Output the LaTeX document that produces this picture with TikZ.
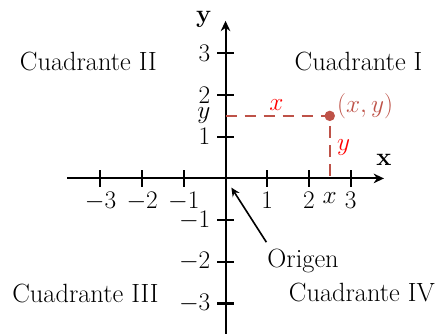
\documentclass[tikz,border=0pt]{standalone}
\usepackage{amsmath}
\usetikzlibrary{arrows.meta}
\definecolor{ptbrown}{RGB}{190,82,72}
\begin{document}
\begin{tikzpicture}[x=1cm,y=1cm,font=\fontsize{18}{22}\selectfont,line width=1.4pt,
  axis/.style={-{Stealth[length=7pt,width=6.5pt,inset=2.2pt]}},
  tick/.style={line width=1.4pt},
  guide/.style={ptbrown,line width=1.4pt,dash pattern=on 8pt off 5pt},
  quad/.style={anchor=base,inner sep=0pt},
  redlab/.style={red,inner sep=0pt}]
\useasboundingbox (-5.41,-3.73) rectangle (5.12,4.28);
\coordinate (O) at (0,0);
\coordinate (xl) at (-3.8,0);
\coordinate (xr) at (3.8,0);
\coordinate (yb) at (0,-3.9);
\coordinate (yt) at (0,3.78);
\draw[axis] (xl) -- (xr);
\draw[axis] (yb) -- (yt);
\foreach \i/\n in {-3/a,-2/b,-1/c,1/d,2/e,3/f}{
  \draw[tick] (\i,-0.2) -- (\i,0.2);
  \node[below,inner sep=0pt] (tx\n) at (\i,-0.31) {$\i$};
  \draw[tick] (-0.2,\i) -- (0.2,\i);
  \node[left,inner sep=0pt] (ty\n) at (-0.34,\i) {$\i$};
}
\node[anchor=base] (xname) at (3.8,0.32) {$\mathbf{x}$};
\node[anchor=base] (yname) at (-0.52,3.74) {$\mathbf{y}$};
\coordinate (P) at (2.5,1.5);
\coordinate (Px) at (2.5,0);
\coordinate (Py) at (0,1.5);
\draw[guide] (Py) -- (P) -- (Px);
\node[circle,fill=ptbrown,inner sep=0pt,minimum size=0.25cm] (pt) at (P) {};
\node[anchor=base west,inner sep=0pt,text=ptbrown] (ptlab) at (2.65,1.58) {$(x,y)$};
\node[redlab,anchor=south] (xred) at (1.22,1.61) {$x$};
\node[redlab,anchor=base west] (yred) at (2.65,0.67) {$y$};
\node[below,inner sep=0pt] (xval) at (2.5,-0.31) {$x$};
\node[left,inner sep=0pt] (yval) at (-0.34,1.5) {$y$};
\node[quad] (q1) at (3.19,2.58) {Cuadrante I};
\node[quad] (q2) at (-3.29,2.6) {Cuadrante II};
\node[quad] (q3) at (-3.36,-2.97) {Cuadrante III};
\node[quad] (q4) at (3.27,-2.96) {Cuadrante IV};
\node[quad] (orig) at (1.86,-2.13) {Origen};
\draw[-{Stealth[length=6pt,width=5.5pt,inset=2pt]},line width=1.1pt] ([xshift=-0.88cm,yshift=0.6cm]orig.base) -- ([shift={(0.14,-0.22)}]O);
\end{tikzpicture}
\end{document}
